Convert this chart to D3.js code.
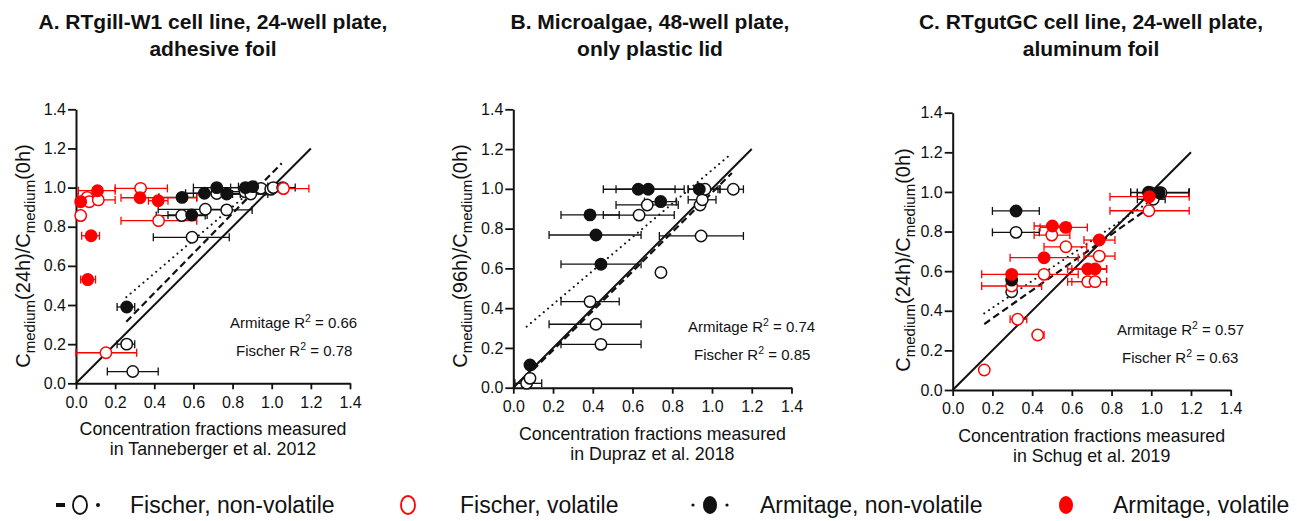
<!DOCTYPE html>
<html><head><meta charset="utf-8">
<script src="https://cdn.jsdelivr.net/npm/d3@7/dist/d3.min.js"></script>
<style>
body{margin:0;background:#fff}
svg{display:block}
text{font-family:"Liberation Sans",Arial,Helvetica,sans-serif;fill:#111}
</style>
</head><body>
<svg id="chart" width="1297" height="521"></svg>
<script>
// ---------- shared tick values ----------
const tickValues = [0, 0.2, 0.4, 0.6, 0.8, 1.0, 1.2, 1.4];

// ---------- Panel A : [x, y, xLow, xHigh] ----------
const aFischerNonVol = [
  [0.29,0.06,0.16,0.42],[0.259,0.20,0.21,0.30],[0.593,0.746,0.395,0.783],
  [0.54,0.857,0.41,0.66],[0.661,0.889,0.42,0.75],[0.77,0.886,0.65,0.90],
  [0.719,0.97,0.60,0.84],[0.864,0.979,0.75,0.97],[0.893,0.967,0.80,0.98],
  [0.945,0.996,0.87,1.02],[0.995,0.991,0.92,1.07],[1.008,1.0,0.94,1.08],
  [1.056,1.0,0.99,1.12]
];
const aFischerVol = [
  [0.153,0.156,0.0,0.31],[0.024,0.857,0.01,0.045],[0.33,0.996,0.20,0.467],
  [0.422,0.831,0.23,0.617],[0.057,0.95,0.01,0.10],[0.068,0.928,0.02,0.12],
  [0.114,0.937,0.02,0.20],[1.06,0.995,0.93,1.19]
];
const aArmNonVol = [
  [0.259,0.39,0.21,0.30],[0.591,0.86,0.47,0.67],[0.542,0.95,0.424,0.617],
  [0.656,0.971,0.56,0.76],[0.719,1.0,0.60,0.85],[0.77,0.967,0.70,0.84],
  [0.866,1.0,0.79,0.95],[0.903,1.005,0.83,0.98]
];
const aArmVol = [
  [0.06,0.53,0.024,0.10],[0.077,0.754,0.029,0.12],[0.024,0.928,0.005,0.04],
  [0.11,0.984,0.012,0.20],[0.327,0.948,0.23,0.617],[0.42,0.933,0.37,0.47]
];
const aFischerFit = [[0.257,0.315],[1.051,1.124]];
const aArmFit = [[0.257,0.44],[0.95,1.03]];

// ---------- Panel B ----------
const bFischerNonVol = [
  [0.067,0.022,0.008,0.143],[0.084,0.047,null,null],[0.441,0.218,0.24,0.643],
  [0.416,0.319,0.18,0.643],[0.386,0.433,0.24,0.533],[0.743,0.579,null,null],
  [0.945,0.763,0.735,1.158],[0.633,0.868,0.453,0.81],[0.674,0.919,0.517,0.83],
  [0.94,0.919,null,null],[0.951,0.945,0.88,1.02],[0.965,0.998,0.88,1.04],
  [1.107,0.998,1.03,1.158]
];
const bFischerVol = [];
const bArmNonVol = [
  [0.084,0.114,null,null],[0.441,0.621,0.24,0.643],[0.416,0.768,0.18,0.643],
  [0.386,0.869,0.24,0.533],[0.629,0.998,0.453,0.814],[0.679,0.998,0.517,0.86],
  [0.742,0.936,0.66,0.82],[0.936,0.998,0.88,1.04]
];
const bArmVol = [];
const bFischerFit = [[0.06,0.05],[1.10,1.08]];
const bArmFit = [[0.067,0.307],[1.10,1.179]];

// ---------- Panel C ----------
const cFischerNonVol = [
  [0.319,0.796,0.2,0.436],[0.297,0.496,null,null],[0.997,0.996,0.896,1.191],
  [1.01,0.963,0.93,1.07],[1.049,0.996,0.93,1.191]
];
const cFischerVol = [
  [0.159,0.101,null,null],[0.327,0.357,0.289,0.373],[0.428,0.278,0.41,0.46],
  [0.297,0.525,0.146,0.448],[0.46,0.584,0.289,0.632],[0.499,0.782,0.41,0.59],
  [0.57,0.723,0.46,0.675],[0.738,0.676,0.661,0.817],[0.68,0.547,0.579,0.775],
  [0.717,0.547,0.6,0.775],[0.988,0.905,0.792,1.191]
];
const cArmNonVol = [
  [0.319,0.904,0.2,0.436],[0.297,0.555,null,null],[0.986,0.998,0.896,1.191],
  [1.04,0.996,0.93,1.191]
];
const cArmVol = [
  [0.297,0.584,0.146,0.448],[0.46,0.668,0.289,0.632],[0.502,0.828,0.41,0.59],
  [0.569,0.821,0.44,0.678],[0.738,0.757,0.661,0.817],[0.68,0.611,0.579,0.775],
  [0.717,0.611,0.6,0.775],[0.99,0.976,0.792,1.191]
];
const cFischerFit = [[0.159,0.333],[0.985,0.917]];
const cArmFit = [[0.159,0.387],[0.977,0.942]];

// ---------- text ----------
const titles = [
  ["A. RTgill-W1 cell line, 24-well plate,", "adhesive foil"],
  ["B. Microalgae, 48-well plate,", "only plastic lid"],
  ["C. RTgutGC cell line, 24-well plate,", "aluminum foil"]
];
const xTitles = [
  ["Concentration fractions measured", "in Tanneberger et al. 2012"],
  ["Concentration fractions measured", "in Dupraz et al. 2018"],
  ["Concentration fractions measured", "in Schug et al. 2019"]
];
const yHours = ["24h", "96h", "24h"];
const armitageR2 = ["0.66", "0.74", "0.57"];
const fischerR2 = ["0.78", "0.85", "0.63"];
const legendLabels = ["Fischer, non-volatile", "Fischer, volatile", "Armitage, non-volatile", "Armitage, volatile"];

// ---------- layout ----------
const layout = [
  {x0:76,   x1:350,    y0:383.3, y1:109.3, titleX:213,  statX:[230,236],  yTitleX:30,  yTitleY:256},
  {x0:513.3,x1:791.5,  y0:387.7, y1:109.3, titleX:650,  statX:[688,694],  yTitleX:467, yTitleY:256},
  {x0:952.7,x1:1230.7, y0:390,   y1:112.7, titleX:1091, statX:[1117,1122],yTitleX:910, yTitleY:260}
];
const panelData = [
  {fnv:aFischerNonVol, fv:aFischerVol, anv:aArmNonVol, av:aArmVol, ff:aFischerFit, af:aArmFit},
  {fnv:bFischerNonVol, fv:bFischerVol, anv:bArmNonVol, av:bArmVol, ff:bFischerFit, af:bArmFit},
  {fnv:cFischerNonVol, fv:cFischerVol, anv:cArmNonVol, av:cArmVol, ff:cFischerFit, af:cArmFit}
];

const RED = "#ff0000", BLK = "#111";
const svg = d3.select("#chart");

layout.forEach((L, i) => {
  const D = panelData[i];
  const x = d3.scaleLinear().domain([0, 1.4]).range([L.x0, L.x1]);
  const y = d3.scaleLinear().domain([0, 1.4]).range([L.y0, L.y1]);
  const g = svg.append("g");

  // title
  const t = g.append("text").attr("x", L.titleX).attr("text-anchor", "middle")
    .style("font-weight", "bold").style("font-size", "21px");
  t.append("tspan").attr("x", L.titleX).attr("y", 29).text(titles[i][0]);
  t.append("tspan").attr("x", L.titleX).attr("y", 56).text(titles[i][1]);

  // axes
  const xa = g.append("g").attr("transform", `translate(0,${L.y0})`)
    .call(d3.axisBottom(x).tickValues(tickValues).tickFormat(d3.format(".1f")).tickSize(6).tickPadding(7).tickSizeOuter(0));
  const ya = g.append("g").attr("transform", `translate(${L.x0},0)`)
    .call(d3.axisLeft(y).tickValues(tickValues).tickFormat(d3.format(".1f")).tickSize(8).tickPadding(2).tickSizeOuter(0));
  [xa, ya].forEach(a => {
    a.select(".domain").attr("stroke", BLK).attr("stroke-width", 2);
    a.selectAll(".tick line").attr("stroke", BLK).attr("stroke-width", 1.8);
    a.selectAll(".tick text").style("font-size", "16px").style("font-family", '"Liberation Sans",Arial,sans-serif').attr("fill", "#222");
  });

  // x title
  const cx = (L.x0 + L.x1) / 2;
  const xt = g.append("text").attr("text-anchor", "middle").style("font-size", "17.8px");
  xt.append("tspan").attr("x", cx).attr("y", L.y0 + 52).text(xTitles[i][0]);
  xt.append("tspan").attr("x", cx).attr("y", L.y0 + 72).text(xTitles[i][1]);

  // y title
  const yt = g.append("text").attr("transform", `translate(${L.yTitleX},${L.yTitleY}) rotate(-90)`)
    .attr("text-anchor", "middle").style("font-size", "20px");
  yt.append("tspan").text("C");
  yt.append("tspan").attr("dy", 5).style("font-size", "15px").text("medium");
  yt.append("tspan").attr("dy", -5).text(`(${yHours[i]})/C`);
  yt.append("tspan").attr("dy", 5).style("font-size", "15px").text("medium");
  yt.append("tspan").attr("dy", -5).text("(0h)");

  // lines
  const line = d3.line().x(d => x(d[0])).y(d => y(d[1]));
  g.append("path").attr("d", line([[0,0],[1.2,1.2]])).attr("fill","none").attr("stroke",BLK).attr("stroke-width",2);
  g.append("path").attr("d", line(D.ff)).attr("fill","none").attr("stroke",BLK).attr("stroke-width",2.2).attr("stroke-dasharray","7,4");
  g.append("path").attr("d", line(D.af)).attr("fill","none").attr("stroke",BLK).attr("stroke-width",2).attr("stroke-dasharray","0.1,5.5").attr("stroke-linecap","round");

  // series
  const series = [
    {data:D.fnv, col:BLK, fill:"#fff"},
    {data:D.fv,  col:RED, fill:"#fff"},
    {data:D.anv, col:BLK, fill:BLK},
    {data:D.av,  col:RED, fill:RED}
  ];
  // error bars
  series.forEach(s => {
    const eb = g.append("g").attr("stroke", s.col).attr("stroke-width", 1.3).attr("fill","none");
    s.data.filter(d => d[2] !== null).forEach(d => {
      const yy = y(d[1]);
      eb.append("line").attr("x1", x(d[2])).attr("x2", x(d[3])).attr("y1", yy).attr("y2", yy);
      eb.append("line").attr("x1", x(d[2])).attr("x2", x(d[2])).attr("y1", yy-4).attr("y2", yy+4);
      eb.append("line").attr("x1", x(d[3])).attr("x2", x(d[3])).attr("y1", yy-4).attr("y2", yy+4);
    });
  });
  // markers
  series.forEach(s => {
    g.append("g").selectAll("circle").data(s.data).join("circle")
      .attr("cx", d => x(d[0])).attr("cy", d => y(d[1])).attr("r", 5.7)
      .attr("fill", s.fill).attr("stroke", s.col).attr("stroke-width", 1.5);
  });

  // stats
  const st = [["Armitage", armitageR2[i], 329], ["Fischer", fischerR2[i], 357]];
  st.forEach((s, k) => {
    const tx = g.append("text").attr("x", L.statX[k]).attr("y", s[2] + (i === 0 ? -1 : (i === 1 ? 3 : 6))).style("font-size", "15px");
    tx.append("tspan").text(`${s[0]} R`);
    tx.append("tspan").attr("dy", -6).style("font-size", "10.5px").text("2");
    tx.append("tspan").attr("dy", 6).text(` = ${s[1]}`);
  });
});

// ---------- legend ----------
const legMarkX = [80, 408, 710, 1066];
const legTextX = [130, 460, 760, 1113];
const ly = 505;
const lg = svg.append("g");
// item 1: dashed sample + open circle
lg.append("line").attr("x1", legMarkX[0]-24).attr("x2", legMarkX[0]-15).attr("y1", ly).attr("y2", ly).attr("stroke", BLK).attr("stroke-width", 4);
lg.append("circle").attr("cx", legMarkX[0]+18).attr("cy", ly).attr("r", 2).attr("fill", BLK);
lg.append("ellipse").attr("cx", legMarkX[0]).attr("cy", ly).attr("rx", 7).attr("ry", 9).attr("fill", "#fff").attr("stroke", BLK).attr("stroke-width", 1.8);
// item 2: red open
lg.append("ellipse").attr("cx", legMarkX[1]).attr("cy", ly).attr("rx", 7).attr("ry", 9).attr("fill", "#fff").attr("stroke", RED).attr("stroke-width", 1.8);
// item 3: dotted sample + filled circle
lg.append("circle").attr("cx", legMarkX[2]-17).attr("cy", ly).attr("r", 1.6).attr("fill", BLK);
lg.append("circle").attr("cx", legMarkX[2]+17).attr("cy", ly).attr("r", 1.6).attr("fill", BLK);
lg.append("ellipse").attr("cx", legMarkX[2]).attr("cy", ly).attr("rx", 7).attr("ry", 9).attr("fill", BLK);
// item 4: red filled
lg.append("ellipse").attr("cx", legMarkX[3]).attr("cy", ly).attr("rx", 7).attr("ry", 9).attr("fill", RED);
legendLabels.forEach((s, k) => {
  lg.append("text").attr("x", legTextX[k]).attr("y", ly + 8).style("font-size", "23px").text(s);
});
</script>
</body></html>
